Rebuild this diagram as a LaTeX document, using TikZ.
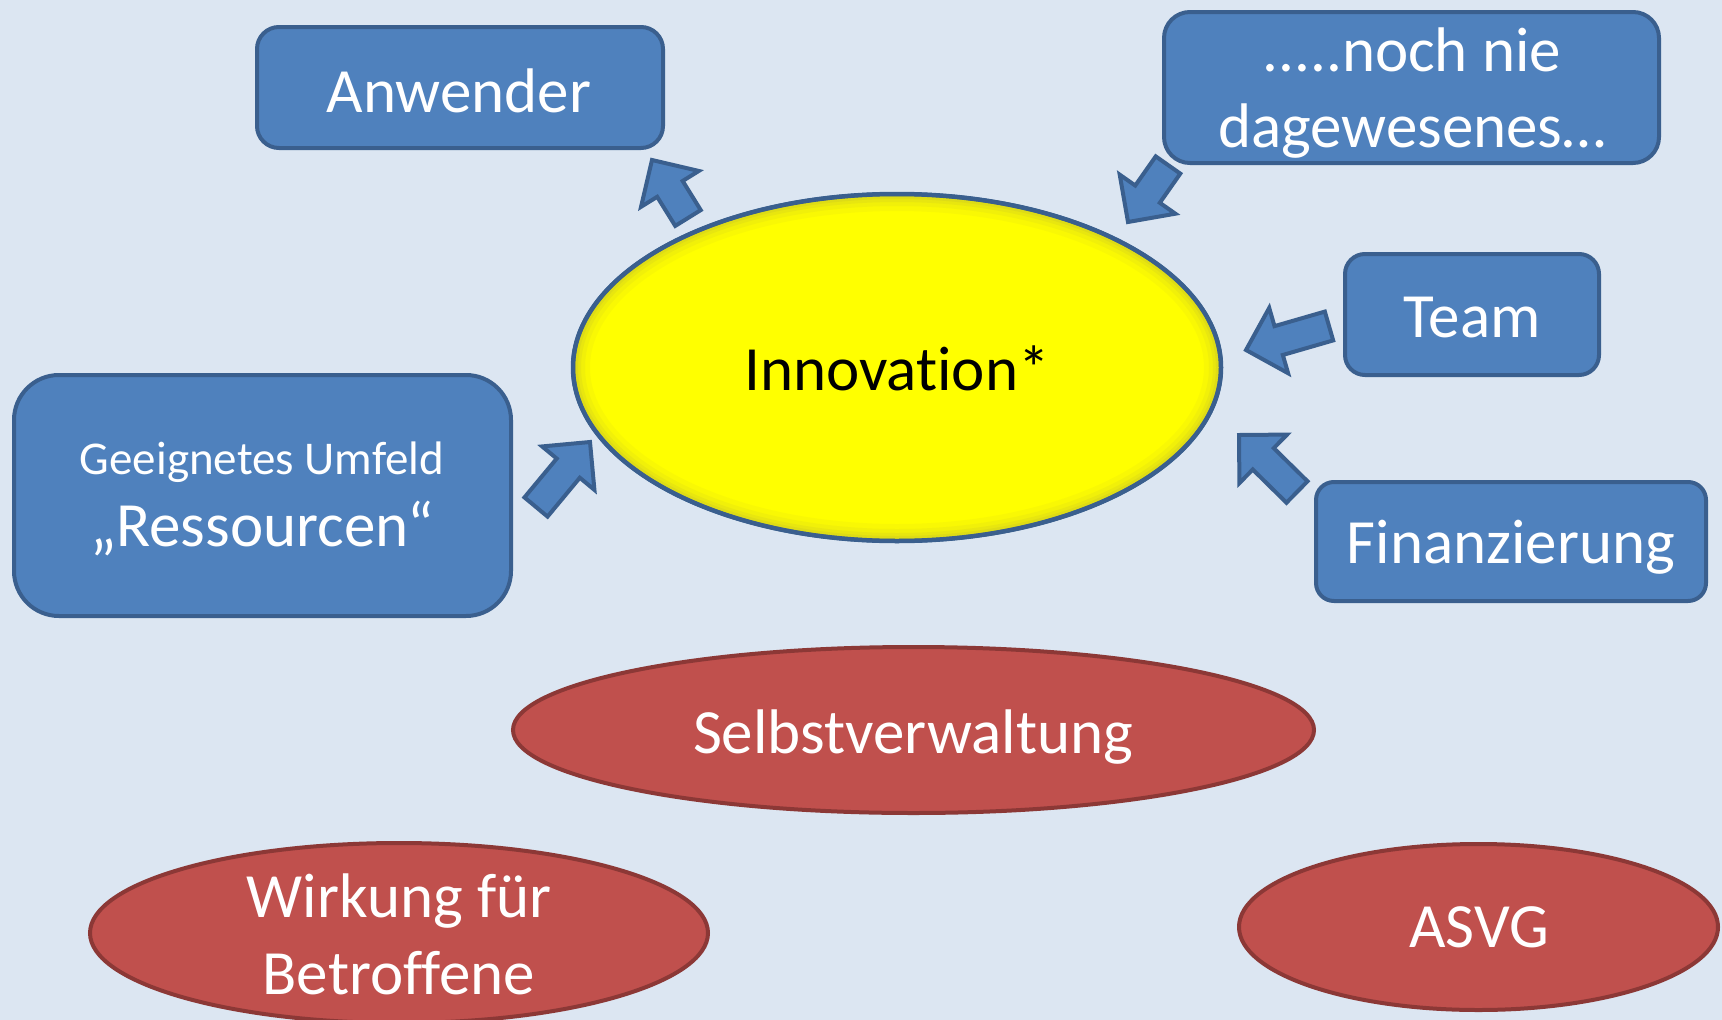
\documentclass[tikz,border=0pt]{standalone}
\usepackage{fontspec}
\setmainfont[Ligatures=NoCommon]{Carlito}
\usetikzlibrary{shapes.geometric,calc}
\definecolor{bg}{HTML}{DCE6F2}
\definecolor{boxfill}{HTML}{4F81BD}
\definecolor{boxline}{HTML}{3A5F8E}
\definecolor{redfill}{HTML}{C0504D}
\definecolor{redline}{HTML}{8C3836}
\definecolor{innofill}{HTML}{FFFF00}
\tikzset{
  bluebox/.style={rectangle, fill=boxfill, draw=boxline, line width=4pt, inner sep=0pt},
  redell/.style={ellipse, fill=redfill, draw=redline, line width=4pt, inner sep=0pt},
  innoell/.style={ellipse, fill=innofill, draw=boxline, line width=4pt, inner sep=0pt},
  big/.style={font=\fontsize{63}{76}\selectfont, text=white, inner sep=0pt, anchor=base},
  small/.style={font=\fontsize{47}{56}\selectfont, text=white, inner sep=0pt, anchor=base},
  barrow/.style={fill=boxfill, draw=boxline, line width=4pt, line join=miter},
}
\newcommand\blockarrow[2]{%
  \draw[barrow]
    ($(#1)!15pt!90:(#2)$) --
    ($($(#2)!34pt!(#1)$)!15pt!90:(#2)$) --
    ($($(#2)!34pt!(#1)$)!34pt!90:(#2)$) --
    (#2) --
    ($($(#2)!34pt!(#1)$)!34pt!-90:(#2)$) --
    ($($(#2)!34pt!(#1)$)!15pt!-90:(#2)$) --
    ($(#1)!15pt!-90:(#2)$) -- cycle;
}
\begin{document}
\begin{tikzpicture}[x=1pt,y=-1pt]
\fill[bg] (0,0) rectangle (1722,1020);
\useasboundingbox (0,0) rectangle (1722,1020);

% boxes
\node[bluebox, rounded corners=22pt, minimum width=406pt, minimum height=121pt] (anw) at (460,87.5) {};
\node[big] (anwT) at (459,112) {Anwender};

\node[bluebox, rounded corners=26pt, minimum width=495pt, minimum height=151pt] (noch) at (1411.5,87.5) {};
\node[big] (nochA) at (1412,71) {.....noch nie};
\node[big] (nochB) at (1412,147) {dagewesenes…};

\node[bluebox, rounded corners=20pt, minimum width=254pt, minimum height=121pt] (team) at (1472,314.5) {};
\node[big] (teamT) at (1472,337) {Team};

\node[bluebox, rounded corners=18pt, minimum width=390pt, minimum height=119pt] (fin) at (1511,541.5) {};
\node[big] (finT) at (1511,563) {Finanzierung};

\node[bluebox, rounded corners=45pt, minimum width=497pt, minimum height=241pt] (geeig) at (262.5,495.5) {};
\node[small] (geeigA) at (262,474) {Geeignetes Umfeld};
\node[big] (geeigB) at (262,546) {„Ressourcen“};

% innovation
\node[innoell, minimum width=648pt, minimum height=347pt] (inno) at (897,367.5) {};
\begin{scope}
  \clip (inno.center) ellipse [x radius=322pt, y radius=171.5pt];
  \foreach \w/\o in {30/0.06,20/0.08,12/0.1,6/0.12}
    \draw[line width=\w pt, draw=black!45!yellow, opacity=\o] (inno.center) ellipse [x radius=322pt, y radius=171.5pt];
\end{scope}
\draw[boxline, line width=4.5pt] (inno.center) ellipse [x radius=324pt, y radius=173.5pt];
\node[big, text=black] (innoT) at (897,390) {Innovation*};

% red ellipses
\node[redell, minimum width=801pt, minimum height=166pt] (selbst) at (913.5,730) {};
\node[big] (selbstT) at (913,753) {Selbstverwaltung};

\node[redell, minimum width=618pt, minimum height=180pt] (wirk) at (399,933) {};
\node[big] (wirkA) at (399,917) {Wirkung für};
\node[big] (wirkB) at (399,994) {Betroffene};

\node[redell, minimum width=479pt, minimum height=166pt] (asvg) at (1478.5,927) {};
\node[big] (asvgT) at (1479,947) {ASVG};

% block arrows
\coordinate (aT) at (688,218); \coordinate (aH) at (652,160);
\coordinate (bT) at (1168,165); \coordinate (bH) at (1128,222);
\coordinate (cT) at (1329,326); \coordinate (cH) at (1246,350);
\coordinate (dT) at (1297,492); \coordinate (dH) at (1239,435);
\coordinate (eT) at (536,507); \coordinate (eH) at (590,442);
\blockarrow{aT}{aH}
\blockarrow{bT}{bH}
\blockarrow{cT}{cH}
\blockarrow{dT}{dH}
\blockarrow{eT}{eH}
\end{tikzpicture}
\end{document}
